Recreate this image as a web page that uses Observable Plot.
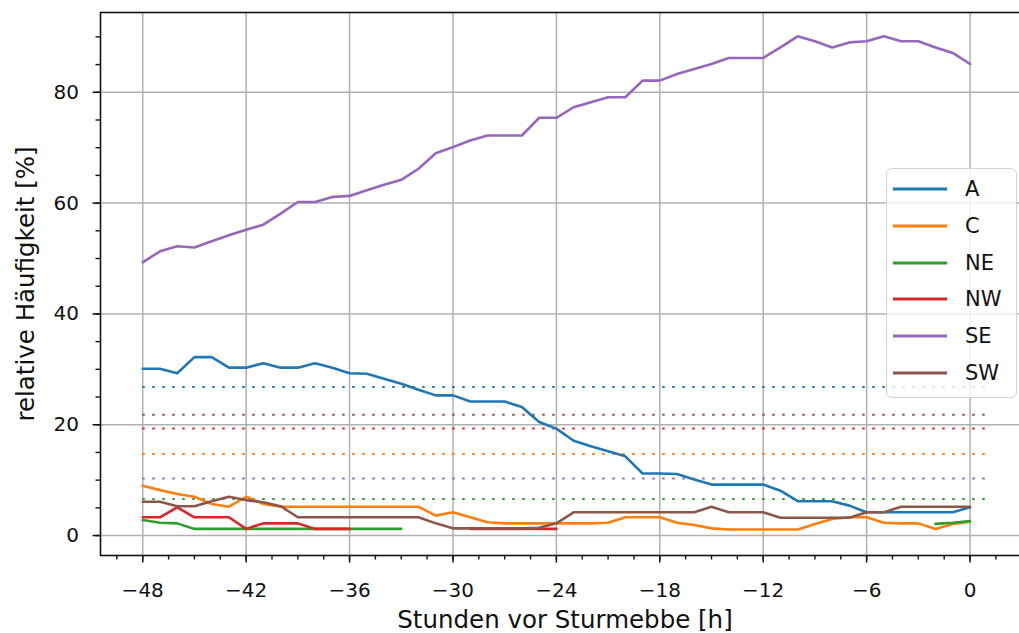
<!DOCTYPE html>
<html>
<head>
<meta charset="utf-8">
<script src="https://cdn.jsdelivr.net/npm/d3@7"></script>
<script src="https://cdn.jsdelivr.net/npm/@observablehq/plot@0.6"></script>
<style>
  html, body { margin: 0; padding: 0; background: #fff; overflow: hidden; width: 1019px; height: 633px; }
  #wrap { position: relative; width: 1019px; height: 633px; overflow: hidden; }
  #chart svg { display: block; max-width: none !important; }
  #legend { position: absolute; left: 886px; top: 168px; width: 131px; height: 230px;
            box-sizing: border-box; border: 1.5px solid #d4d4d4; border-radius: 6px;
            background: rgba(255,255,255,0.8); font-family: "DejaVu Sans", sans-serif; font-size: 21px; color: #111; }
  .lg-row { position: absolute; left: 0; height: 30px; width: 131px; }
  .lg-row svg { position: absolute; left: 6px; top: 0; }
  .lg-row span { position: absolute; left: 78px; top: 2px; line-height: 26px; }
</style>
</head>
<body>
<div id="wrap">
  <div id="chart"></div>
  <div id="legend"></div>
</div>
<script>
// ---- data ----
const hours = [-48,-47,-46,-45,-44,-43,-42,-41,-40,-39,-38,-37,-36,-35,-34,-33,-32,-31,-30,-29,
               -28,-27,-26,-25,-24,-23,-22,-21,-20,-19,-18,-17,-16,-15,-14,-13,-12,-11,-10,-9,
               -8,-7,-6,-5,-4,-3,-2,-1,0];
const categories = ["A", "C", "NE", "NW", "SE", "SW"];
const colors = ["#1f77b4", "#ff7f0e", "#2ca02c", "#d62728", "#9467bd", "#8c564b"];

const seriesA  = [30.1,30.1,29.3,32.2,32.2,30.3,30.3,31.1,30.3,30.3,
                  31.1,30.3,29.3,29.2,28.3,27.4,26.3,25.3,25.3,24.2,
                  24.2,24.2,23.2,20.5,19.3,17.1,16.1,15.2,14.3,11.2,
                  11.2,11.1,10.1,9.2,9.2,9.2,9.2,8.1,6.2,6.2,
                  6.2,5.4,4.2,4.2,4.2,4.2,4.2,4.2,5.1];
const seriesC  = [9.0,8.2,7.5,7.0,5.7,5.2,7.0,5.7,5.2,5.2,
                  5.2,5.2,5.2,5.2,5.2,5.2,5.2,3.6,4.2,3.3,
                  2.4,2.2,2.2,2.2,2.2,2.2,2.2,2.3,3.3,3.3,
                  3.3,2.3,1.9,1.3,1.1,1.1,1.1,1.1,1.1,2.1,
                  3.0,3.3,3.3,2.3,2.2,2.2,1.2,2.1,2.5];
const seriesNE = [2.8,2.3,2.2,1.2,1.2,1.2,1.2,1.2,1.2,1.2,
                  1.2,1.2,1.2,1.2,1.2,1.2,null,null,null,null,
                  null,null,null,null,null,null,null,null,null,null,
                  null,null,null,null,null,null,null,null,null,null,
                  null,null,null,null,null,null,2.1,2.3,2.6];
const seriesNW = [3.3,3.3,5.1,3.3,3.3,3.3,1.2,2.2,2.2,2.2,
                  1.2,1.2,1.2,null,null,null,null,null,null,1.2,
                  1.2,1.2,1.2,1.2,1.2,null,null,null,null,null,
                  null,null,null,null,null,null,null,null,null,null,
                  null,null,null,null,null,null,null,null,null];
const seriesSE = [49.3,51.3,52.2,52.0,53.1,54.2,55.2,56.1,58.1,60.2,
                  60.2,61.1,61.3,62.3,63.3,64.2,66.2,69.0,70.1,71.3,
                  72.2,72.2,72.2,75.4,75.4,77.3,78.2,79.1,79.1,82.1,
                  82.1,83.3,84.2,85.1,86.2,86.2,86.2,88.1,90.1,89.2,
                  88.1,89.0,89.2,90.1,89.2,89.2,88.1,87.1,85.1];
const seriesSW = [6.1,6.1,5.3,5.3,6.2,7.0,6.4,6.0,5.3,3.3,
                  3.3,3.3,3.3,3.3,3.3,3.3,3.3,2.2,1.3,1.3,
                  1.3,1.3,1.3,1.4,2.2,4.2,4.2,4.2,4.2,4.2,
                  4.2,4.2,4.2,5.2,4.2,4.2,4.2,3.2,3.2,3.2,
                  3.2,3.2,4.2,4.2,5.2,5.2,5.2,5.2,5.2];
const allSeries = [seriesA, seriesC, seriesNE, seriesNW, seriesSE, seriesSW];

// climatological mean frequency per category (dotted lines)
const meanValues = [26.8, 14.7, 6.6, 19.3, 10.3, 21.8];
const meanFrom = -48;
const meanTo = 1;

const xMajorTicks = [-48, -42, -36, -30, -24, -18, -12, -6, 0];
const xMinorTicks = [-49.5,-48,-46.5,-45,-43.5,-42,-40.5,-39,-37.5,-36,-34.5,-33,-31.5,-30,-28.5,-27,-25.5,-24,
                     -22.5,-21,-19.5,-18,-16.5,-15,-13.5,-12,-10.5,-9,-7.5,-6,-4.5,-3,-1.5,0,1.5,3];
const yMajorTicks = [0, 20, 40, 60, 80];
const yMinorTicks = [0,5,10,15,20,25,30,35,40,45,50,55,60,65,70,75,80,85,90];

const xLabel = "Stunden vor Sturmebbe [h]";
const yLabel = "relative Häufigkeit [%]";

// ---- tables ----
const rows = [];
categories.forEach((c, i) => allSeries[i].forEach((v, j) => rows.push({cat: c, h: hours[j], v})));
const meanRows = categories.map((c, i) => ({cat: c, v: meanValues[i]}));

const fmt = d => (d < 0 ? "\u2212" + Math.abs(d) : String(d));

const chart = Plot.plot({
  width: 1030,
  height: 633,
  marginLeft: 100,
  marginRight: 1,
  marginTop: 12,
  marginBottom: 78,
  style: {fontFamily: "DejaVu Sans, sans-serif", fontSize: "20px", color: "#111", background: "transparent", overflow: "visible"},
  x: {domain: [-50.45, 3.45]},
  y: {domain: [-3.6, 94.4]},
  color: {domain: categories, range: colors},
  marks: [
    Plot.gridX(xMajorTicks, {stroke: "#b0b0b0", strokeOpacity: 1, strokeWidth: 1.5}),
    Plot.gridY(yMajorTicks, {stroke: "#b0b0b0", strokeOpacity: 1, strokeWidth: 1.5}),
    Plot.ruleY(meanRows, {y: "v", x1: meanFrom, x2: meanTo, stroke: "cat", strokeWidth: 2, strokeDasharray: "2.5,7.5"}),
    Plot.line(rows, {x: "h", y: "v", z: "cat", stroke: "cat", strokeWidth: 2.6}),
    Plot.axisX(xMinorTicks, {tickSize: 4.5, strokeWidth: 1.4, tickFormat: () => "", label: null}),
    Plot.axisY(yMinorTicks, {tickSize: 4.5, strokeWidth: 1.4, tickFormat: () => "", label: null}),
    Plot.axisX(xMajorTicks, {tickSize: 7.5, strokeWidth: 1.5, tickPadding: 20, fontSize: 20, tickFormat: fmt,
      label: xLabel, labelAnchor: "center", labelArrow: "none", labelOffset: 72}),
    Plot.axisY(yMajorTicks, {tickSize: 7.5, strokeWidth: 1.5, tickPadding: 14, fontSize: 20, tickFormat: fmt,
      label: yLabel, labelAnchor: "center", labelArrow: "none", labelOffset: 84}),
    Plot.frame({stroke: "#111", strokeWidth: 1.6})
  ]
});
// bigger axis-label font
chart.querySelectorAll("g[aria-label='x-axis label'] text, g[aria-label='y-axis label'] text").forEach(t => t.setAttribute("font-size", "24.5"));
document.getElementById("chart").appendChild(chart);

// ---- legend ----
const legend = document.getElementById("legend");
categories.forEach((c, i) => {
  const row = document.createElement("div");
  row.className = "lg-row";
  row.style.top = (5 + i * 36.8) + "px";
  row.innerHTML = `<svg width="56" height="30"><line x1="0" x2="54" y1="15" y2="15" stroke="${colors[i]}" stroke-width="2.8"/></svg><span>${c}</span>`;
  legend.appendChild(row);
});
</script>
</body>
</html>
